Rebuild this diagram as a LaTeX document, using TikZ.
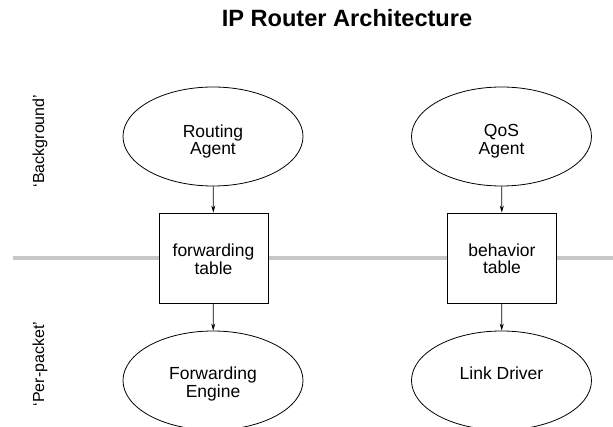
\documentclass[tikz,border=0pt]{standalone}
\usepackage{fontspec}
\setmainfont{Liberation Sans}
\usetikzlibrary{shapes.geometric,arrows.meta}

\tikzset{
  agent/.style={draw, ellipse, line width=0.8pt, minimum width=180pt, minimum height=99pt, inner sep=0pt},
  tablebox/.style={draw, fill=white, line width=0.8pt, minimum width=109pt, minimum height=90pt, inner sep=0pt},
  caption/.style={anchor=base, inner sep=0pt, font=\fontsize{17.5}{17.7}\selectfont},
  flow/.style={line width=0.8pt, -{Stealth[length=7pt,width=4pt]}},
  divider/.style={draw=black!22, line width=4pt},
  sidelabel/.style={rotate=90, font=\fontsize{16}{19}\selectfont},
}
% two centred lines whose reference point is the first baseline
\newcommand{\twolines}[2]{\begin{tabular}[t]{@{}c@{}}#1\\[-0.2pt]#2\end{tabular}}

\begin{document}
\begin{tikzpicture}[x=1pt, y=-1pt]
  \useasboundingbox (0,0) rectangle (613,427);
  \clip (0,0) rectangle (613,427);

  % title
  \node[font=\bfseries\fontsize{23.6}{26}\selectfont, anchor=base] (title) at (347,27) {IP Router Architecture};

  % separator between background and per-packet work
  \coordinate (divL) at (13,258.5);
  \coordinate (divR) at (613,258.5);
  \draw[divider] (divL) -- (divR);

  % side labels
  \node[sidelabel] (bg) at (40,141) {`Background'};
  \node[sidelabel] (pp) at (40,364) {`Per-packet'};

  % routing column
  \node[agent] (routing) at (213,136.5) {};
  \node[tablebox] (fwdtable) at (213.5,258) {};
  \node[agent] (engine) at (213,380.5) {};
  \node[caption] (routingtxt) at (213,137.3) {\twolines{Routing}{Agent}};
  \node[caption] (fwdtabletxt) at (213.5,256.6) {\twolines{forwarding}{table}};
  \node[caption] (enginetxt) at (213,380) {\twolines{Forwarding}{Engine}};

  % QoS column
  \node[agent] (qos) at (501.5,136.5) {};
  \node[tablebox] (behtable) at (502,258) {};
  \node[agent] (driver) at (501.5,380.5) {};
  \node[caption] (qostxt) at (501.5,136.8) {\twolines{QoS}{Agent}};
  \node[caption] (behtabletxt) at (502,256.2) {\twolines{behavior}{table}};
  \node[caption] (drivertxt) at (501.5,380) {Link Driver};

  % connectors
  \draw[flow] (routing) -- (fwdtable);
  \draw[flow] (fwdtable) -- (engine);
  \draw[flow] (qos) -- (behtable);
  \draw[flow] (behtable) -- (driver);
\end{tikzpicture}
\end{document}
